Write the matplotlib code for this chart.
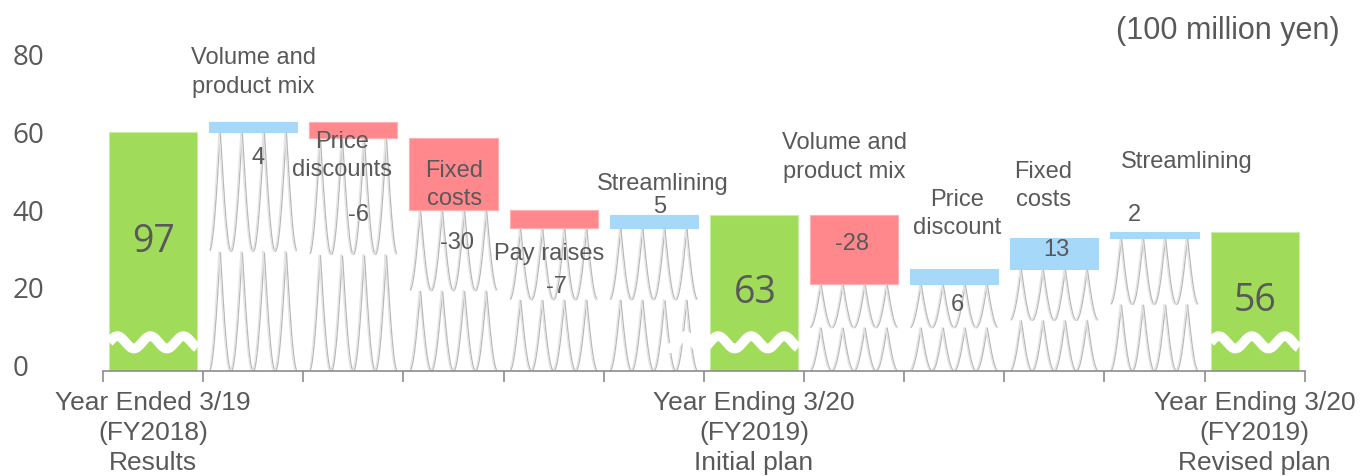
import numpy as np
import matplotlib.pyplot as plt

# bar heights are on the chart's broken scale; shown_values are the printed numbers
categories = ["Year Ended 3/19\n(FY2018)\nResults", "", "", "", "", "",
              "Year Ending 3/20\n(FY2019)\nInitial plan", "", "", "", "",
              "Year Ending 3/20\n(FY2019)\nRevised plan"]
step_names = ["", "Volume and\nproduct mix", "Price\ndiscounts", "Fixed\ncosts",
              "Pay raises", "Streamlining", "", "Volume and\nproduct mix",
              "Price\ndiscount", "Fixed\ncosts", "Streamlining", ""]
shown_values = [97, 4, -6, -30, -7, 5, 63, -28, 6, 13, 2, 56]
bar_heights = [60, 2.4, -4, -18.7, -4.7, 3.5, 38.5, -17.9, 3.8, 8.2, 1.4, 34.0]
is_total = [True, False, False, False, False, False, True, False, False, False, False, True]

GREEN = "#A0DC5A"
RED = "#FF888D"
BLUE = "#A6D8FA"
TXT = "#595959"
FLOOR = -1.8
W = 0.88

fig = plt.figure(figsize=(13.63, 4.77), dpi=100)
ax = fig.add_axes([0.0756, 0.2201, 0.8816, 0.6646])
ax.set_xlim(-0.5, 11.5)
ax.set_ylim(FLOOR, 80)

x = np.arange(len(categories))
level = 0
bases = []
for i, (h, tot) in enumerate(zip(bar_heights, is_total)):
    if tot:
        ax.bar(i, h - FLOOR, bottom=FLOOR, width=W, color=GREEN, edgecolor="#C8EEA0", lw=0.8, zorder=2)
        level = h
        bases.append(None)
    else:
        new = level + h
        lo, hi = min(level, new), max(level, new)
        ax.bar(i, hi - lo, bottom=lo, width=W, color=BLUE if h > 0 else RED,
               edgecolor="#FFB0B4" if h < 0 else BLUE, lw=0.8, zorder=2)
        bases.append(lo)
        level = new

# wavy fill under the floating bars
lam = W / 4
for i, b in enumerate(bases):
    if b is None:
        continue
    left = i - W / 2
    xs = np.linspace(left + 0.01, left + W - 0.01, 400)
    rh = (b - FLOOR) / 2
    for r in range(2):
        top = b - r * rh
        for sh, col in [(0, "#B8B8B8"), (0.012, "#E4E4E4")]:
            ys = top - rh * np.abs(np.sin(np.pi * (xs - left - lam / 2 + sh) / lam))
            ax.plot(xs, ys, color=col, lw=1.0, zorder=1)

# break marks on total bars
wave_from = {0: 0.0, 6: 0.43, 11: 0.0}
for i, tot in enumerate(is_total):
    if tot:
        x0 = i - W / 2 - wave_from[i]
        xs = np.linspace(x0, i + W / 2, 300)
        ys = 5.6 + 1.6 * np.sin(2 * np.pi * (xs - (i - W / 2)) / 0.33)
        ax.plot(xs, ys, color="white", lw=7, zorder=3, solid_capstyle="butt")

# text labels
lab = dict(ha="center", va="center", color=TXT, fontsize=17, family="Liberation Sans", zorder=4)
ax.text(1.0, 75.4, step_names[1], linespacing=1.4, **lab)
ax.text(1.89, 53.9, step_names[2], linespacing=1.35, **lab)
ax.text(3.01, 46.5, step_names[3], linespacing=1.35, **lab)
ax.text(3.95, 28.6, step_names[4], **lab)
ax.text(5.09, 46.6, step_names[5], **lab)
ax.text(6.9, 53.6, step_names[7], linespacing=1.4, **lab)
ax.text(8.03, 38.9, step_names[8], linespacing=1.35, **lab)
ax.text(8.89, 46.1, step_names[9], linespacing=1.35, **lab)
ax.text(10.32, 52.3, step_names[10], **lab)

value_pos = [(0, 31.7), (1.05, 53.4), (2.05, 38.7), (3.03, 31.4), (4.03, 20.1), (5.06, 40.7),
             (6.01, 18.6), (6.98, 31.2), (8.03, 15.5), (9.02, 29.6), (9.8, 38.7), (11.0, 16.5)]
for i, (px, py) in enumerate(value_pos):
    if is_total[i]:
        ax.text(px, py, str(shown_values[i]), ha="center", va="center", color=TXT,
                fontsize=27, family="Open Sans", zorder=4)
    else:
        ax.text(px, py, str(shown_values[i]), **lab)

ax.text(11.85, 86.3, "(100 million yen)", ha="right", va="center", color=TXT,
        fontsize=22, family="Liberation Sans", clip_on=False)

# axes styling
for s in ["top", "right", "left"]:
    ax.spines[s].set_visible(False)
ax.spines["bottom"].set_color("#8C8C8C")
ax.spines["bottom"].set_linewidth(1.2)
ax.set_yticks([0, 20, 40, 60, 80])
ax.tick_params(axis="y", length=0, labelsize=20, labelcolor=TXT, pad=65)
for t in ax.get_yticklabels():
    t.set_family("Open Sans")
    t.set_horizontalalignment("left")
ax.set_xticks(np.arange(-0.5, 12, 1))
ax.set_xticklabels([])
ax.tick_params(axis="x", which="major", length=8, color="#8C8C8C", width=1.2)
ax.set_xticks(x, minor=True)
ax.set_xticklabels(categories, minor=True, fontsize=19, color=TXT, family="Liberation Sans",
                   linespacing=1.3)
ax.tick_params(axis="x", which="minor", length=0, pad=14)

plt.savefig("out.png", dpi=100)
